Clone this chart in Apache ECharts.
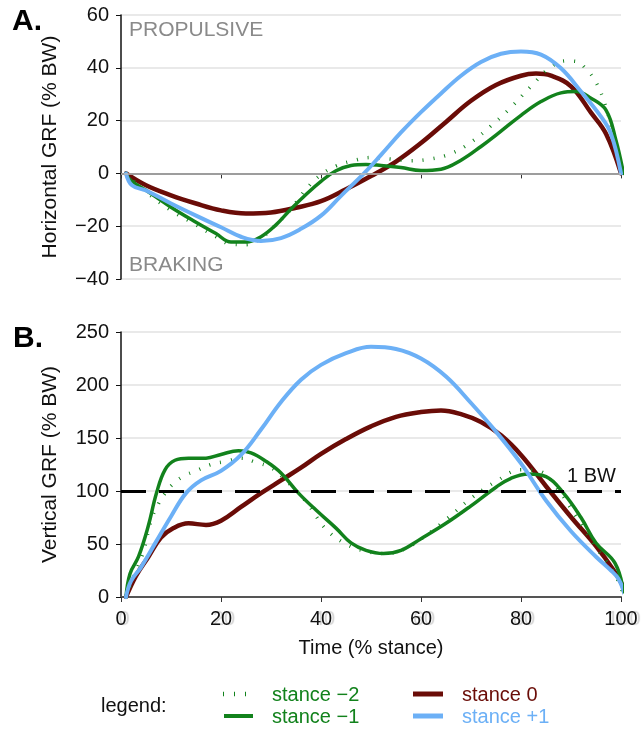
<!DOCTYPE html>
<html>
<head>
<meta charset="utf-8">
<script src="https://cdn.jsdelivr.net/npm/echarts@6/dist/echarts.min.js"></script>
<style>
  html, body { margin: 0; padding: 0; background: #fff; }
  #chart { width: 641px; height: 732px; }
</style>
</head>
<body>
<div id="chart"></div>
<script>
// x = time (% stance), y = GRF (% BW)

// A. horizontal GRF
const hStanceM2 = [[1,0],[5,-7],[10,-14],[15,-19.5],[19,-24],[22,-26.8],[25,-27],[28,-24.5],[31,-19.5],[34,-13.5],[37,-6],[40,-0.5],[43,2.8],[46,4.6],[50,6],[54,5.4],[58,4.8],[62,5.5],[66,7.5],[70,11.8],[74,18],[78,25],[82,33],[86,40.3],[89,42.6],[91,42.4],[93,39.6],[95,34.5],[97,25],[99,10],[100,0]];
const hStanceM1 = [[1,0],[2,-2.7],[5,-6.4],[10,-12.8],[15,-18.5],[19,-22.8],[22,-26],[25,-26],[28,-24],[31,-19.5],[34,-13.5],[37,-8],[40,-3],[43,1],[46,3],[49,3.4],[52,3],[56,2.2],[60,1.1],[64,1.6],[68,5],[72,10.2],[76,16],[80,22],[84,27.2],[88,30.5],[91,31],[94,28.5],[97,24],[99,12.5],[100.5,0]];
const hStance0 = [[1,0],[5,-4.5],[10,-8.3],[15,-11.4],[20,-14],[25,-15.2],[30,-14.8],[35,-13],[40,-10.5],[45,-6],[50,-1],[55,4.5],[60,11.5],[65,19.5],[70,27.5],[75,33.5],[80,37],[83,37.8],[86,37],[90,33],[94,23],[97,15],[100,0]];
const hStanceP1 = [[1,0],[2.2,-4.5],[5,-6.5],[10,-11.4],[15,-16],[20,-20.4],[24,-24],[28,-25.6],[32,-24.5],[36,-21],[40,-16],[44,-8.5],[48.6,0],[52,7],[56,15.5],[60,23.2],[64,30.3],[68,37],[72,42.2],[76,45.3],[80,46.2],[84,45],[88,39.8],[92,31],[96,21.5],[98,15],[100,0]];

// B. vertical GRF
const vStanceM2 = [[1,0],[3,25],[4.5,43],[6,72],[7.5,88],[9,99],[10.5,107],[12.5,114],[15,119],[18,125],[21,128],[24,131],[27,127],[30,122],[33,110],[37,90],[41,64],[45,50],[49,43],[53,41],[57,46],[61,58],[65,73],[70,93],[75,109],[80,120],[83.5,119],[87,104],[91,76],[95,47],[98.5,24],[100.3,5]];
const vStanceM1 = [[1,0],[1.8,22],[3.5,38],[5.4,66],[7.1,98],[8.8,120],[10.8,129],[13.5,131],[17,131],[20,134.5],[23.5,138],[26,136],[29,128],[32,117],[35.5,98],[39,82],[43,65],[46,51],[49,44],[52.5,41],[56,44],[60,55],[65,69.5],[70,86],[75,103.6],[78,112],[81.5,116],[85,113.5],[88.5,98],[92,75],[95,51],[98.8,32],[100.5,5]];
const vStance0 = [[1,0],[3,20],[5.5,38],[8,56],[10.5,65],[13.5,69.5],[17,68],[20,72],[24,85],[28,98],[32,110],[36,122],[40,135],[45,149],[50,161],[55,170],[60,174.5],[64,176],[68,172.5],[72,165],[76,152.5],[80,134],[85,104.5],[90,75.5],[95,48],[98.5,25.5],[100.2,12]];
const vStanceP1 = [[1,0],[2,15],[4,28],[7,52],[10,76],[13,98],[16,110],[20,119],[24,134],[28,158],[32,184],[36,205],[40,219],[45,230],[50,236],[55,234],[60,225],[65,208],[70,183],[75,156],[80,126],[85,91],[90,62],[95,38],[98,25],[99.5,17],[100.7,3]];

const bodyWeight = 100;

const GREEN = '#12821c';
const DARK_RED = '#6a0c07';
const BLUE = '#6cb0f6';
const FONT = "'Liberation Sans', Arial, Helvetica, sans-serif";

const minus = (v) => String(v).replace('-', '\u2212');

function xAxisOf(gridIndex, withLabels) {
  return {
    type: 'value', gridIndex: gridIndex, min: 0, max: 100, interval: 20,
    axisLine: { show: true, lineStyle: { color: withLabels ? '#555' : '#111', width: withLabels ? 2 : 1.5 } },
    axisTick: { show: true, length: 5, lineStyle: { color: '#333' } },
    axisLabel: {
      show: withLabels, fontSize: 20, color: '#111', fontFamily: FONT, margin: 12,
      textShadowColor: 'rgba(0,0,0,0.18)', textShadowOffsetX: 3, textShadowBlur: 1
    },
    splitLine: { show: false },
    name: withLabels ? 'Time (% stance)' : '',
    nameLocation: 'middle', nameGap: 41,
    nameTextStyle: { fontSize: 20, color: '#111', fontFamily: FONT }
  };
}

function yAxisOf(gridIndex, min, max, interval, name) {
  return {
    type: 'value', gridIndex: gridIndex, min: min, max: max, interval: interval,
    axisLine: { show: true, lineStyle: { color: '#111', width: 1.5 } },
    axisTick: { show: true, length: 5, lineStyle: { color: '#111' } },
    axisLabel: { fontSize: 20, color: '#111', fontFamily: FONT, margin: 12, formatter: minus },
    splitLine: { show: true, lineStyle: { color: '#e2e2e2', width: 1.5 } },
    name: name, nameLocation: 'middle', nameGap: 60,
    nameTextStyle: { fontSize: 21, color: '#111', fontFamily: FONT }
  };
}

function lineSeries(data, idx, color, width, dotted) {
  return {
    type: 'line', xAxisIndex: idx, yAxisIndex: idx, data: data,
    smooth: 0.4, showSymbol: false, silent: true,
    lineStyle: dotted
      ? { color: color, width: 3.5, type: [1, 10], cap: 'butt' }
      : { color: color, width: width, cap: 'round' }
  };
}

const chart = echarts.init(document.getElementById('chart'), null, { renderer: 'canvas' });

const series = [
  lineSeries(hStance0, 0, DARK_RED, 4.5),
  lineSeries(hStanceM2, 0, GREEN, 0, true),
  lineSeries(hStanceM1, 0, GREEN, 3.5),
  lineSeries(hStanceP1, 0, BLUE, 4),
  lineSeries(vStance0, 1, DARK_RED, 4.5),
  lineSeries(vStanceM2, 1, GREEN, 0, true),
  lineSeries(vStanceM1, 1, GREEN, 3.5),
  lineSeries(vStanceP1, 1, BLUE, 4)
];

// zero line in A
series[0].markLine = {
  silent: true, symbol: 'none', label: { show: false },
  lineStyle: { color: '#bbb', width: 1.5, type: 'solid' },
  data: [{ yAxis: 0 }]
};
// 1 BW reference in B
series[4].markLine = {
  silent: true, symbol: 'none',
  label: { show: true, position: 'insideEndTop', formatter: '1 BW', fontSize: 20, color: '#111', fontFamily: FONT, distance: 5 },
  lineStyle: { color: '#000', width: 3, type: [25, 13] },
  data: [{ yAxis: bodyWeight }]
};

function legendText(text, x, y, color) {
  return { type: 'text', x: x, y: y, style: { text: text, fill: color, font: '20px ' + FONT, verticalAlign: 'middle' } };
}
function legendLine(x1, x2, y, color, width, dash) {
  return { type: 'line', shape: { x1: x1, y1: y, x2: x2, y2: y }, style: { stroke: color, lineWidth: width, lineDash: dash || null } };
}

chart.setOption({
  animation: false,
  textStyle: { fontFamily: FONT },
  grid: [
    { left: 121, right: 20, top: 15, height: 264 },
    { left: 121, right: 20, top: 332, height: 265 }
  ],
  xAxis: [xAxisOf(0, false), xAxisOf(1, true)],
  yAxis: [
    yAxisOf(0, -40, 60, 20, 'Horizontal GRF (% BW)'),
    yAxisOf(1, 0, 250, 50, 'Vertical GRF (% BW)')
  ],
  series: series,
  graphic: [
    { type: 'text', x: 12, y: 22, style: { text: 'A.', fill: '#000', font: 'bold 30px ' + FONT, verticalAlign: 'middle' } },
    { type: 'text', x: 13, y: 339, style: { text: 'B.', fill: '#000', font: 'bold 30px ' + FONT, verticalAlign: 'middle' } },
    { type: 'text', x: 129, y: 30, style: { text: 'PROPULSIVE', fill: '#8a8a8a', font: '21px ' + FONT, verticalAlign: 'middle' } },
    { type: 'text', x: 129, y: 265, style: { text: 'BRAKING', fill: '#8a8a8a', font: '21px ' + FONT, verticalAlign: 'middle' } },
    legendText('legend:', 101, 706, '#111'),
    legendLine(223, 250, 694, GREEN, 4.5, [1, 10]),
    legendLine(224, 253, 716, GREEN, 4),
    legendLine(413, 443, 694, DARK_RED, 5),
    legendLine(413, 443, 716, BLUE, 5),
    legendText('stance \u22122', 272, 695, GREEN),
    legendText('stance \u22121', 272, 717, GREEN),
    legendText('stance 0', 462, 695, DARK_RED),
    legendText('stance +1', 462, 717, BLUE)
  ]
});
</script>
</body>
</html>
